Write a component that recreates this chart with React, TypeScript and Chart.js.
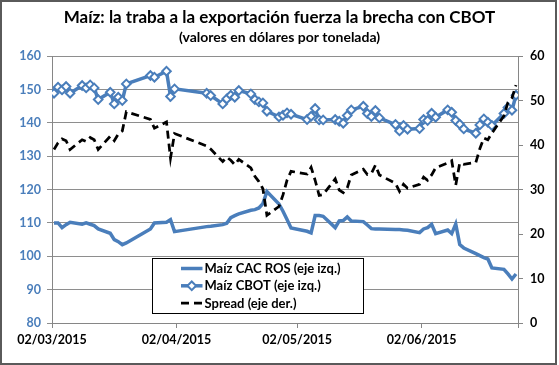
import React, { useEffect, useRef } from "react";
import { Chart, registerables } from "chart.js";

Chart.register(...registerables);

// ---------- data ----------
const DATES = [
  "02/03/2015", "03/03/2015", "04/03/2015", "05/03/2015", "06/03/2015",
  "09/03/2015", "10/03/2015", "11/03/2015", "12/03/2015", "13/03/2015",
  "16/03/2015", "17/03/2015", "18/03/2015", "19/03/2015", "20/03/2015",
  "26/03/2015", "27/03/2015",
  "30/03/2015", "31/03/2015", "01/04/2015",
  "09/04/2015", "10/04/2015",
  "13/04/2015", "14/04/2015", "15/04/2015", "16/04/2015", "17/04/2015",
  "20/04/2015", "21/04/2015", "22/04/2015", "23/04/2015", "24/04/2015",
  "27/04/2015", "28/04/2015", "29/04/2015", "30/04/2015",
  "04/05/2015", "05/05/2015", "06/05/2015", "07/05/2015", "08/05/2015",
  "11/05/2015", "12/05/2015", "13/05/2015", "14/05/2015", "15/05/2015",
  "18/05/2015", "19/05/2015", "20/05/2015", "21/05/2015", "22/05/2015",
  "26/05/2015", "27/05/2015", "28/05/2015", "29/05/2015",
  "01/06/2015", "02/06/2015", "03/06/2015", "04/06/2015", "05/06/2015",
  "08/06/2015", "09/06/2015", "10/06/2015", "11/06/2015", "12/06/2015",
  "15/06/2015", "16/06/2015", "17/06/2015", "18/06/2015", "19/06/2015",
  "22/06/2015", "23/06/2015", "24/06/2015", "25/06/2015",
];

const CAC_ROS = [
  110.0, 110.0, 108.6, 109.5, 110.2,
  109.6, 110.0, 109.6, 109.2, 108.2,
  106.9, 105.0, 104.4, 103.5, 104.0,
  108.2, 110.0,
  110.2, 111.0, 107.4,
  108.9, 109.0,
  109.5, 109.9, 111.6, 112.2, 112.7,
  113.8, 114.0, 114.5, 115.8, 119.4,
  115.7, 113.5, 111.0, 108.5,
  107.5, 107.0, 112.2, 112.2, 112.0,
  108.6, 110.6, 110.7, 111.8, 110.6,
  110.4, 109.4, 108.3, 108.2, 108.2,
  108.0, 108.0, 107.9, 107.8,
  107.1, 108.2, 108.6, 109.6, 106.8,
  107.9, 106.8, 109.7, 103.5, 102.5,
  100.8, 100.2, 99.6, 99.2, 96.5,
  96.1, 94.7, 93.2, 94.7,
];

const CBOT = [
  148.9, 150.7, 149.9, 150.9, 148.9,
  151.2, 150.5, 151.4, 150.5, 147.0,
  149.2, 145.7, 147.7, 146.7, 151.7,
  154.2, 153.7,
  155.5, 147.9, 150.2,
  148.9, 148.2,
  145.7, 147.2, 148.3, 147.7, 149.7,
  148.7, 147.0, 146.3, 146.0, 143.5,
  141.8, 142.3, 143.0, 142.6,
  141.0, 142.0, 144.3, 140.9, 140.9,
  141.0, 140.5, 139.9, 142.2, 143.9,
  145.0, 142.8, 141.9, 143.7, 141.5,
  139.5, 137.6, 139.2, 138.1,
  138.3, 141.0, 140.7, 142.9, 141.7,
  143.9, 143.2, 140.7, 139.6, 138.2,
  136.9, 139.4, 141.2, 140.2, 139.2,
  142.8, 144.6, 143.8, 148.3,
];

const SPREAD = [
  39.0, 40.5, 41.4, 41.0, 39.0,
  41.2, 40.8, 41.7, 41.2, 39.0,
  42.0, 41.0, 42.5, 43.2, 47.5,
  45.8, 43.8,
  45.2, 37.1, 42.6,
  39.8, 39.1,
  36.3, 37.3, 36.6, 35.6, 36.8,
  34.9, 33.0, 31.8, 30.2, 24.2,
  26.2, 28.8, 32.1, 34.1,
  33.5, 35.0, 32.1, 28.7, 28.9,
  32.4, 29.9, 29.3, 30.4, 33.3,
  34.6, 33.4, 33.6, 35.5, 33.3,
  31.4, 29.6, 31.2, 30.3,
  31.2, 32.8, 32.1, 33.3, 34.9,
  36.0, 36.5, 31.0, 36.0, 35.7,
  36.1, 39.2, 41.6, 41.2, 42.7,
  46.6, 49.6, 50.6, 53.5,
];

const X_TICK_DATES = ["02/03/2015", "02/04/2015", "02/05/2015", "02/06/2015"];
const X_START = "02/03/2015";
const X_END = "26/06/2015";

const TITLE = "Maíz: la traba a la exportación fuerza la brecha con CBOT";
const SUBTITLE = "(valores en dólares por tonelada)";
const LABEL_CAC = "Maíz CAC ROS (eje izq.)";
const LABEL_CBOT = "Maíz CBOT (eje izq.)";
const LABEL_SPREAD = "Spread (eje der.)";

// ---------- helpers ----------
const DAY = 86400000;
function toUTC(s: string): number {
  const [d, m, y] = s.split("/").map(Number);
  return Date.UTC(y, m - 1, d);
}
const ORIGIN = toUTC(X_START);
function dayOf(s: string): number {
  return Math.round((toUTC(s) - ORIGIN) / DAY);
}
function fmtDay(v: number): string {
  const dt = new Date(ORIGIN + Math.round(v) * DAY);
  const dd = String(dt.getUTCDate()).padStart(2, "0");
  const mm = String(dt.getUTCMonth() + 1).padStart(2, "0");
  return `${dd}/${mm}/${dt.getUTCFullYear()}`;
}

const BLUE = "#4A7EBB";
const AXIS_GRAY = "#868686";
const GRID_GRAY = "#8E8E8E";
const FONT = "Lato";

const legendPlugin = {
  id: "boxLegend",
  afterDraw(chart: any) {
    const { ctx, chartArea } = chart;
    const left = Math.round(chartArea.left + 100) + 0.5;
    const top = Math.round(chartArea.top + 202) + 0.5;
    const w = 211;
    const h = 55;
    ctx.save();
    ctx.fillStyle = "#ffffff";
    ctx.fillRect(left, top, w, h);
    ctx.strokeStyle = "#000000";
    ctx.lineWidth = 1;
    ctx.setLineDash([]);
    ctx.strokeRect(left, top, w, h);
    const ds = chart.data.datasets;
    const rows = [ds[1], ds[2], ds[0]];
    rows.forEach((d: any, i: number) => {
      const y = top + 10 + i * 17.3;
      const x0 = left + 28.5;
      const x1 = left + 50;
      ctx.beginPath();
      ctx.setLineDash(d.borderDash || []);
      ctx.lineWidth = d.borderWidth;
      ctx.strokeStyle = d.borderColor;
      ctx.moveTo(x0, y);
      ctx.lineTo(x1, y);
      ctx.stroke();
      ctx.setLineDash([]);
      if (d.pointRadius > 0) {
        const cx = (x0 + x1) / 2;
        const r = d.pointRadius;
        ctx.beginPath();
        ctx.moveTo(cx, y - r);
        ctx.lineTo(cx + r, y);
        ctx.lineTo(cx, y + r);
        ctx.lineTo(cx - r, y);
        ctx.closePath();
        ctx.fillStyle = d.pointBackgroundColor;
        ctx.fill();
        ctx.lineWidth = d.pointBorderWidth;
        ctx.strokeStyle = d.pointBorderColor;
        ctx.stroke();
      }
      ctx.fillStyle = "#000000";
      ctx.font = `bold 13px ${FONT}`;
      ctx.textAlign = "left";
      ctx.textBaseline = "middle";
      ctx.fillText(d.label, x1 + 2, y + 0.5);
    });
    ctx.restore();
  },
};

export default function App() {
  const canvasRef = useRef<HTMLCanvasElement | null>(null);

  useEffect(() => {
    if (!canvasRef.current) return;
    const pts = (vals: number[]) =>
      DATES.map((d, i) => ({ x: dayOf(d) + 0.5, y: vals[i] }));

    const chart = new Chart(canvasRef.current, {
      type: "line",
      data: {
        datasets: [
          {
            label: LABEL_SPREAD,
            data: pts(SPREAD),
            yAxisID: "y1",
            borderColor: "#000000",
            borderWidth: 2.75,
            borderDash: [8, 5],
            pointRadius: 0,
            tension: 0,
            order: 0,
          },
          {
            label: LABEL_CAC,
            data: pts(CAC_ROS),
            yAxisID: "y",
            borderColor: BLUE,
            borderWidth: 3.5,
            pointRadius: 0,
            tension: 0,
            order: 2,
          },
          {
            label: LABEL_CBOT,
            data: pts(CBOT),
            yAxisID: "y",
            borderColor: BLUE,
            borderWidth: 3.5,
            pointStyle: "rectRot",
            pointRadius: 4.3,
            pointBackgroundColor: "#ffffff",
            pointBorderColor: BLUE,
            pointBorderWidth: 2,
            tension: 0,
            order: 1,
          },
        ] as any,
      },
      options: {
        animation: false,
        responsive: false,
        devicePixelRatio: 1,
        layout: { padding: 0 },
        plugins: {
          legend: { display: false },
          tooltip: { enabled: false },
          title: {
            display: true,
            text: TITLE,
            color: "#000000",
            font: { family: FONT, size: 17, weight: "bold" },
            padding: { top: 7, bottom: 2 },
          },
          subtitle: {
            display: true,
            text: SUBTITLE,
            color: "#000000",
            font: { family: FONT, size: 14, weight: "bold" },
            padding: { top: 0, bottom: 10 },
          },
        },
        scales: {
          x: {
            type: "linear",
            min: dayOf(X_START),
            max: dayOf(X_END),
            afterBuildTicks: (scale: any) => {
              scale.ticks = [...X_TICK_DATES, X_END].map((d) => ({ value: dayOf(d) }));
            },
            afterFit: (scale: any) => {
              scale.height = 42;
            },
            ticks: {
              autoSkip: false,
              maxRotation: 0,
              minRotation: 0,
              color: "#000000",
              padding: 4,
              font: { family: FONT, size: 12.5, weight: "bold" },
              callback: (v: any) => (v === dayOf(X_END) ? "" : fmtDay(Number(v))),
            },
            grid: { drawOnChartArea: false, color: AXIS_GRAY, tickLength: 5 },
            border: { color: AXIS_GRAY, width: 1 },
          },
          y: {
            type: "linear",
            position: "left",
            min: 80,
            max: 160,
            afterFit: (scale: any) => {
              scale.width = 52;
            },
            ticks: {
              stepSize: 10,
              color: BLUE,
              padding: 6,
              font: { family: FONT, size: 12.5, weight: "bold" },
            },
            grid: { color: GRID_GRAY, tickLength: 5 },
            border: { color: AXIS_GRAY, width: 1 },
          },
          y1: {
            type: "linear",
            position: "right",
            min: 0,
            max: 60,
            afterFit: (scale: any) => {
              scale.width = 41;
            },
            ticks: {
              stepSize: 10,
              color: "#000000",
              padding: 7,
              font: { family: FONT, size: 12.5, weight: "bold" },
            },
            grid: { drawOnChartArea: false, color: AXIS_GRAY, tickLength: 5 },
            border: { color: AXIS_GRAY, width: 1 },
          },
        },
      } as any,
      plugins: [legendPlugin],
    });
    return () => chart.destroy();
  }, []);

  return (
    <div
      style={{
        position: "fixed",
        left: 0,
        top: 0,
        width: 559,
        height: 365,
        background: "#ffffff",
      }}
    >
      <canvas ref={canvasRef} width={559} height={365} style={{ display: "block" }} />
      <div
        style={{
          position: "absolute",
          left: 0,
          top: 0,
          width: 557,
          height: 365,
          border: "2px solid #5a5a5a",
          boxSizing: "border-box",
          pointerEvents: "none",
        }}
      />
    </div>
  );
}
